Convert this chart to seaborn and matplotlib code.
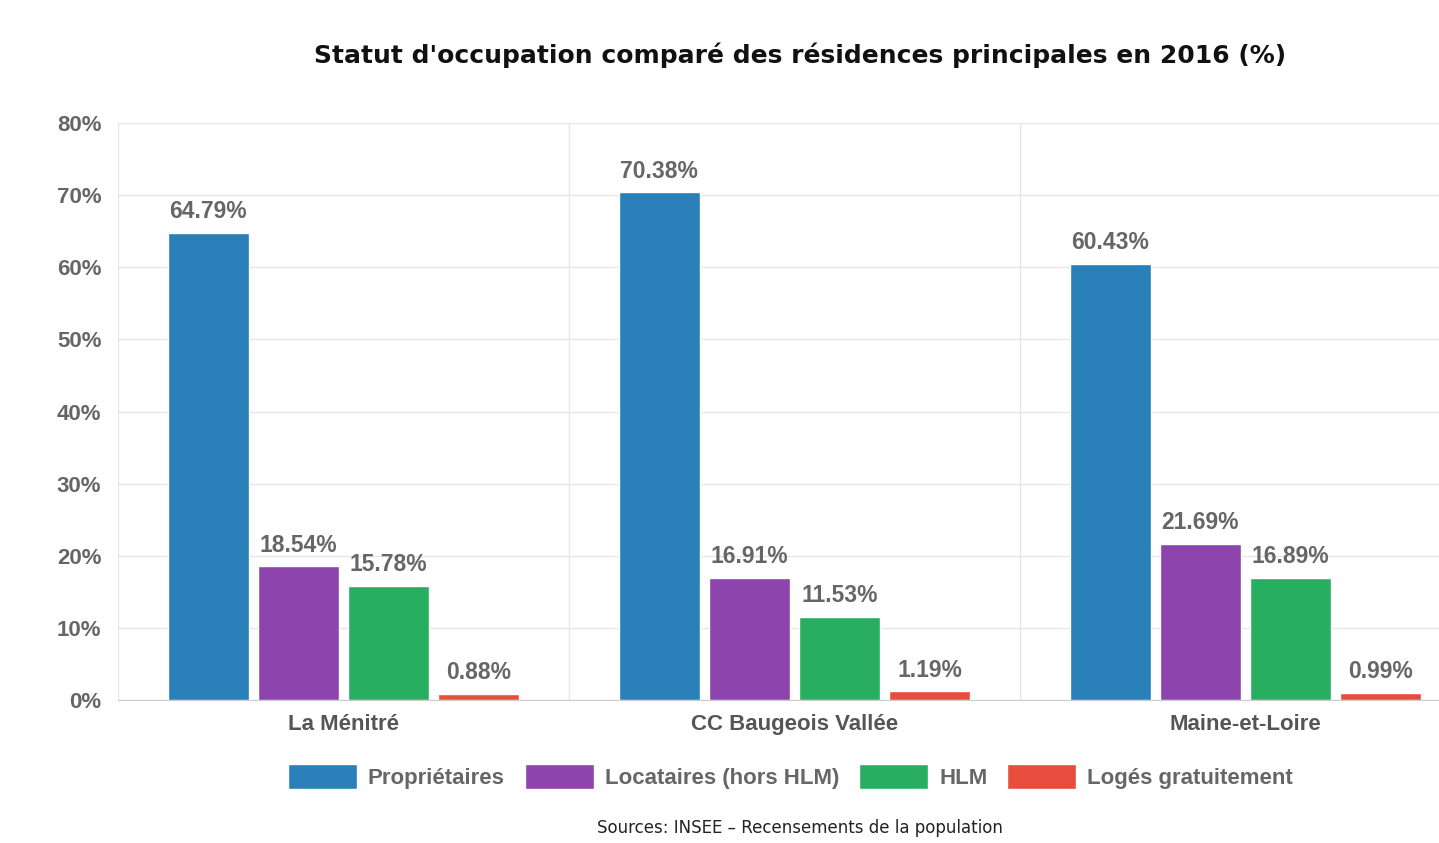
import pandas as pd
import numpy as np
import seaborn as sns
import matplotlib.pyplot as plt
from matplotlib.ticker import FixedLocator, FuncFormatter

territoires = ['La Ménitré', 'CC Baugeois Vallée', 'Maine-et-Loire']
statuts = ['Propriétaires', 'Locataires (hors HLM)', 'HLM', 'Logés gratuitement']
proprietaires = [64.79, 70.38, 60.43]
locataires = [18.54, 16.91, 21.69]
hlm = [15.78, 11.53, 16.89]
loges = [0.88, 1.19, 0.99]
couleurs = ['#2980b9', '#8e44ad', '#27ae60', '#e74c3c']

rows = []
for statut, vals in zip(statuts, [proprietaires, locataires, hlm, loges]):
    for terr, v in zip(territoires, vals):
        rows.append([terr, statut, v])
df = pd.DataFrame(rows, columns=['Territoire', 'Statut', 'Valeur'])

sns.set_style('white')
plt.rcParams['font.family'] = ['Liberation Sans', 'DejaVu Sans']

fig = plt.figure(figsize=(14.39, 8.43), dpi=100)
# l'axe depasse un peu a droite, comme sur l'original
ax = fig.add_axes([0.082, 0.1696, 0.9403, 0.6845])

sns.barplot(data=df, x='Territoire', y='Valeur', hue='Statut', order=territoires,
            hue_order=statuts, palette=couleurs, width=0.8, gap=0.1,
            saturation=1, ax=ax, legend=True)

for cont in ax.containers:
    ax.bar_label(cont, labels=['{:.2f}%'.format(v) for v in cont.datavalues],
                 padding=7, fontsize=16.5, fontweight='bold', color='#666666')

ax.set_ylim(0, 80)
ax.set_xlim(-0.5, 2.5)
ax.set_yticks(np.arange(0, 81, 10))
ax.yaxis.set_major_formatter(FuncFormatter(lambda v, p: '{:.0f}%'.format(v)))
ax.grid(axis='y', color='#e6e6e6', linewidth=1)
ax.xaxis.set_minor_locator(FixedLocator([-0.5, 0.5, 1.5, 2.5]))
ax.grid(axis='x', which='minor', color='#e6e6e6', linewidth=1)
ax.tick_params(axis='x', which='major', length=0, pad=10, labelsize=16, labelcolor='#555555')
ax.tick_params(axis='x', which='minor', length=15, color='#e0e0e0', width=1)
ax.tick_params(axis='y', length=0, labelsize=16, labelcolor='#666666', pad=12)
for lab in ax.get_xticklabels() + ax.get_yticklabels():
    lab.set_fontweight('bold')
ax.set_xlabel('')
ax.set_ylabel('')
for s in ['top', 'right', 'left']:
    ax.spines[s].set_visible(False)
ax.spines['bottom'].set_color('#cccccc')
ax.set_axisbelow(True)

leg = ax.legend(loc='center', bbox_to_anchor=(0.497, -0.133), ncol=4, frameon=False,
                fontsize=16, handlelength=3.1, handleheight=1.3, columnspacing=0.9,
                handletextpad=0.5)
for t in leg.get_texts():
    t.set_color('#666666')
    t.set_fontweight('bold')

fig.text(0.556, 0.935, "Statut d'occupation comparé des résidences principales en 2016 (%)",
         ha='center', va='center', fontsize=18, fontweight='bold', color='#111111',
         family=['DejaVu Sans'])
fig.text(0.556, 0.018, 'Sources: INSEE – Recensements de la population', ha='center',
         va='center', fontsize=12, color='#222222', family=['DejaVu Sans'])

fig.savefig('out.png', dpi=100)
